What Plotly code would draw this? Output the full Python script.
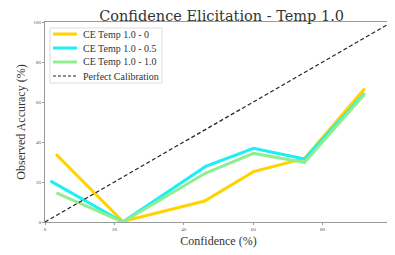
import plotly.graph_objects as go

conf_bins = [3.4, 22.4, 46.0, 60.1, 74.8, 91.9]
acc_t0 = [33.5, 0.3, 10.5, 25.2, 31.8, 66.3]
conf_bins_05 = [1.9, 22.4, 46.3, 60.1, 74.8, 91.9]
acc_t05 = [20.2, 0.0, 27.8, 36.8, 31.5, 64.0]
conf_bins_10 = [3.6, 22.4, 46.3, 60.1, 74.8, 91.9]
acc_t10 = [14.3, 0.0, 24.5, 34.3, 29.8, 63.5]
perfect = [0, 100]
tick_vals = [0, 20, 40, 60, 80, 100]

series_names = ["CE Temp 1.0 - 0", "CE Temp 1.0 - 0.5", "CE Temp 1.0 - 1.0", "Perfect Calibration"]
series_colors = ["#FFD200", "#1EEFF5", "#90EE90", "#222222"]

serif = "Liberation Serif"

fig = go.Figure()
for xs, ys, name, col in [(conf_bins, acc_t0, series_names[0], series_colors[0]),
                          (conf_bins_05, acc_t05, series_names[1], series_colors[1]),
                          (conf_bins_10, acc_t10, series_names[2], series_colors[2])]:
    fig.add_trace(go.Scatter(x=xs, y=ys, mode="lines+markers", name=name,
                             line=dict(color=col, width=3), marker=dict(size=3, color=col)))
fig.add_trace(go.Scatter(x=perfect, y=perfect, mode="lines", name=series_names[3],
                         line=dict(color=series_colors[3], width=1.2, dash="4px,2.5px")))

axis_common = dict(range=[0, 100], tickvals=tick_vals, showgrid=False, zeroline=False,
                   showline=True, linecolor="#9a9a9a", linewidth=1, mirror=True,
                   ticks="outside", ticklen=2, tickcolor="#9a9a9a",
                   tickfont=dict(size=5, family=serif, color="#555555"))

# manual compact legend (paper coordinates of the plot area)
shapes = [dict(type="rect", xref="paper", yref="paper", x0=0.0144, x1=0.337, y0=0.695, y1=0.97,
               line=dict(color="#dddddd", width=1), fillcolor="white", layer="above")]
annotations = []
row_y = [0.94, 0.87, 0.80, 0.73]
for i, (name, col) in enumerate(zip(series_names, series_colors)):
    if i < 3:
        shapes.append(dict(type="line", xref="paper", yref="paper", x0=0.023, x1=0.092,
                           y0=row_y[i], y1=row_y[i], line=dict(color=col, width=3), layer="above"))
    else:
        shapes.append(dict(type="line", xref="paper", yref="paper", x0=0.023, x1=0.092,
                           y0=row_y[i], y1=row_y[i], line=dict(color=col, width=1.2, dash="3px,2px"), layer="above"))
    annotations.append(dict(xref="paper", yref="paper", x=0.105, y=row_y[i], xanchor="left", yanchor="middle",
                            text=name, showarrow=False, font=dict(family=serif, size=10, color="#333333")))

fig.update_layout(
    width=387, height=247,
    margin=dict(l=37, r=3, t=14, b=33),
    paper_bgcolor="white", plot_bgcolor="white",
    title=dict(text="Confidence Elicitation - Temp 1.0", x=0.552, xanchor="center", y=0.966, yanchor="middle",
               font=dict(family="DejaVu Serif", size=14.5, color="#333333")),
    xaxis=dict(**axis_common, title=dict(text="Confidence (%)", font=dict(family=serif, size=12, color="#333333"), standoff=5)),
    yaxis=dict(**axis_common, title=dict(text="Observed Accuracy (%)", font=dict(family=serif, size=12, color="#333333"), standoff=5)),
    showlegend=False,
    shapes=shapes,
    annotations=annotations,
)

fig.write_html("out.html")
